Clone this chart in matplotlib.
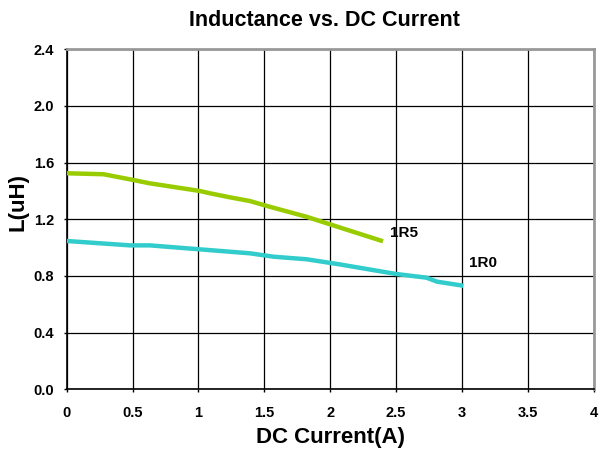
import matplotlib
matplotlib.use("Agg")
import matplotlib.pyplot as plt

plt.rcParams['font.family'] = ['Liberation Sans', 'DejaVu Sans']
plt.rcParams['font.weight'] = 'bold'

x_1r5 = [0.0, 0.28, 0.48, 0.63, 1.01, 1.09, 1.24, 1.39, 1.52, 1.82, 2.07, 2.40]
l_1r5 = [1.525, 1.518, 1.482, 1.454, 1.40, 1.383, 1.355, 1.329, 1.294, 1.218, 1.143, 1.045]

x_1r0 = [0.0, 0.48, 0.63, 1.01, 1.39, 1.57, 1.82, 2.07, 2.50, 2.73, 2.81, 3.01]
l_1r0 = [1.047, 1.016, 1.016, 0.988, 0.96, 0.936, 0.918, 0.882, 0.814, 0.788, 0.76, 0.731]

x_ticks = [0, 0.5, 1, 1.5, 2, 2.5, 3, 3.5, 4]
x_tick_labels = ['0', '0.5', '1', '1.5', '2', '2.5', '3', '3.5', '4']
y_ticks = [0.0, 0.4, 0.8, 1.2, 1.6, 2.0, 2.4]

fig = plt.figure(figsize=(6.01, 4.54), dpi=100)
ax = fig.add_axes([0.111, 0.1425, 0.877, 0.7489])

ax.plot(x_1r5, l_1r5, color='#99cc00', lw=3.2, solid_capstyle='butt', zorder=3)
ax.plot(x_1r0, l_1r0, color='#33cccc', lw=3.2, solid_capstyle='butt', zorder=3)

ax.text(2.455, 1.105, '1R5', fontsize=11, fontweight='bold', va='center', ha='left')
ax.text(3.05, 0.89, '1R0', fontsize=11, fontweight='bold', va='center', ha='left')

ax.set_xlim(0, 4)
ax.set_ylim(0, 2.4)
ax.set_xticks(x_ticks)
ax.set_xticklabels(x_tick_labels)
ax.set_yticks(y_ticks)
ax.set_yticklabels(['%.1f' % v for v in y_ticks])
ax.tick_params(axis='both', labelsize=10.5, length=2, width=1)
ax.tick_params(axis='x', pad=10)
ax.tick_params(axis='y', pad=7)
for lab in ax.get_xticklabels() + ax.get_yticklabels():
    lab.set_fontweight('bold')

ax.grid(True, color='black', lw=0.9)
ax.set_axisbelow(True)

# frame: dark left/bottom, grey top/right
ax.spines['left'].set_color('black')
ax.spines['bottom'].set_color('black')
ax.spines['left'].set_linewidth(1.2)
ax.spines['bottom'].set_linewidth(1.2)
ax.spines['top'].set_color('#999999')
ax.spines['right'].set_color('#999999')
ax.spines['top'].set_linewidth(2)
ax.spines['right'].set_linewidth(2)

fig.text(0.539, 0.955, 'Inductance vs. DC Current', fontsize=15.5, fontweight='bold',
         ha='center', va='center')
ax.set_xlabel('DC Current(A)', fontsize=16, fontweight='bold', va='center')
ax.xaxis.set_label_coords(0.5, -0.142)
ax.set_ylabel('L(uH)', fontsize=16, fontweight='bold', va='center')
ax.yaxis.set_label_coords(-0.093, 0.55)

fig.savefig('out.png', dpi=100)
